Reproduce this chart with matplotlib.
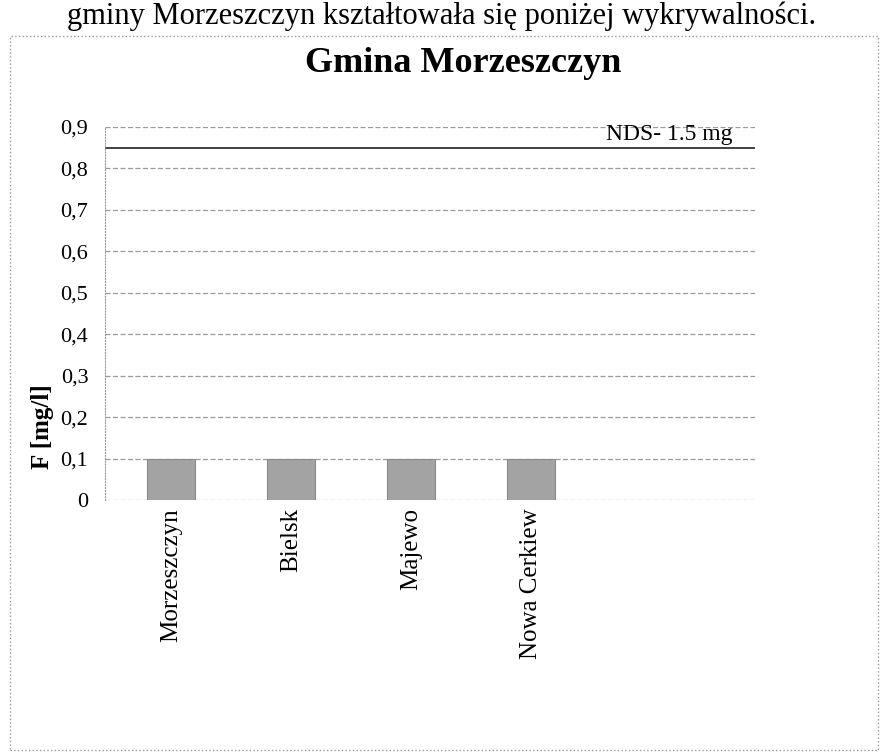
import matplotlib.pyplot as plt
from matplotlib.patches import Rectangle

plt.rcParams['font.family'] = ['Liberation Serif', 'DejaVu Serif']

places = ['Morzeszczyn', 'Bielsk', 'Majewo', 'Nowa Cerkiew']
fluor = [0.1, 0.1, 0.1, 0.1]
y_ticks = [0, 0.1, 0.2, 0.3, 0.4, 0.5, 0.6, 0.7, 0.8, 0.9]
y_labels = ['0', '0,1', '0,2', '0,3', '0,4', '0,5', '0,6', '0,7', '0,8', '0,9']
nds_level = 0.85
nds_text = 'NDS- 1.5 mg'

fig = plt.figure(figsize=(8.86, 7.56), dpi=100)
ax = fig.add_axes([105/886, 1-500/756, 650/886, (500-127)/756])

x = list(range(len(places)))
ax.bar(x, fluor, width=0.4, color='#a3a3a3', edgecolor='#8a8a8a', linewidth=0.8, zorder=3)

ax.set_xlim(-0.55, 4.87)
ax.set_ylim(0, 0.9)
ax.set_yticks(y_ticks)
ax.set_yticklabels(y_labels, fontsize=16)
for t in y_ticks:
    ax.axhline(t, color='#9a9a9a', lw=0.9, ls=(0, (4, 2)), zorder=1)

# limit line (NDS)
ax.axhline(nds_level, color='#333333', lw=1.3, zorder=2)
ax.text(4.68, nds_level + 0.006, nds_text, fontsize=17, ha='right', va='bottom')

ax.set_xticks(x)
ax.set_xticklabels(places, rotation=90, fontsize=18, va='top')
ax.tick_params(axis='both', length=0)
ax.tick_params(axis='y', pad=12)
ax.tick_params(axis='x', pad=6)

for s in ['top', 'right', 'bottom']:
    ax.spines[s].set_visible(False)
ax.spines['left'].set_color('#9a9a9a')
ax.spines['left'].set_linestyle(':')

fig.text(463/886, 1-64/756, 'Gmina Morzeszczyn', fontsize=26, fontweight='bold',
         ha='center', va='center')
fig.text(42/886, 1-427/756, 'F [mg/l]', fontsize=18, fontweight='bold',
         rotation=90, ha='center', va='center')

# body text line above the chart
fig.text(442/886, 1-16/756, 'gminy Morzeszczyn kształtowała się poniżej wykrywalności.',
         fontsize=22, ha='center', va='center')

# dotted frame round the chart
fig.patches.append(Rectangle((10/886, 6/756), 868/886, 714/756, transform=fig.transFigure,
                             fill=False, ec='#999999', lw=1, ls=':'))

fig.savefig('out.png', dpi=100)
